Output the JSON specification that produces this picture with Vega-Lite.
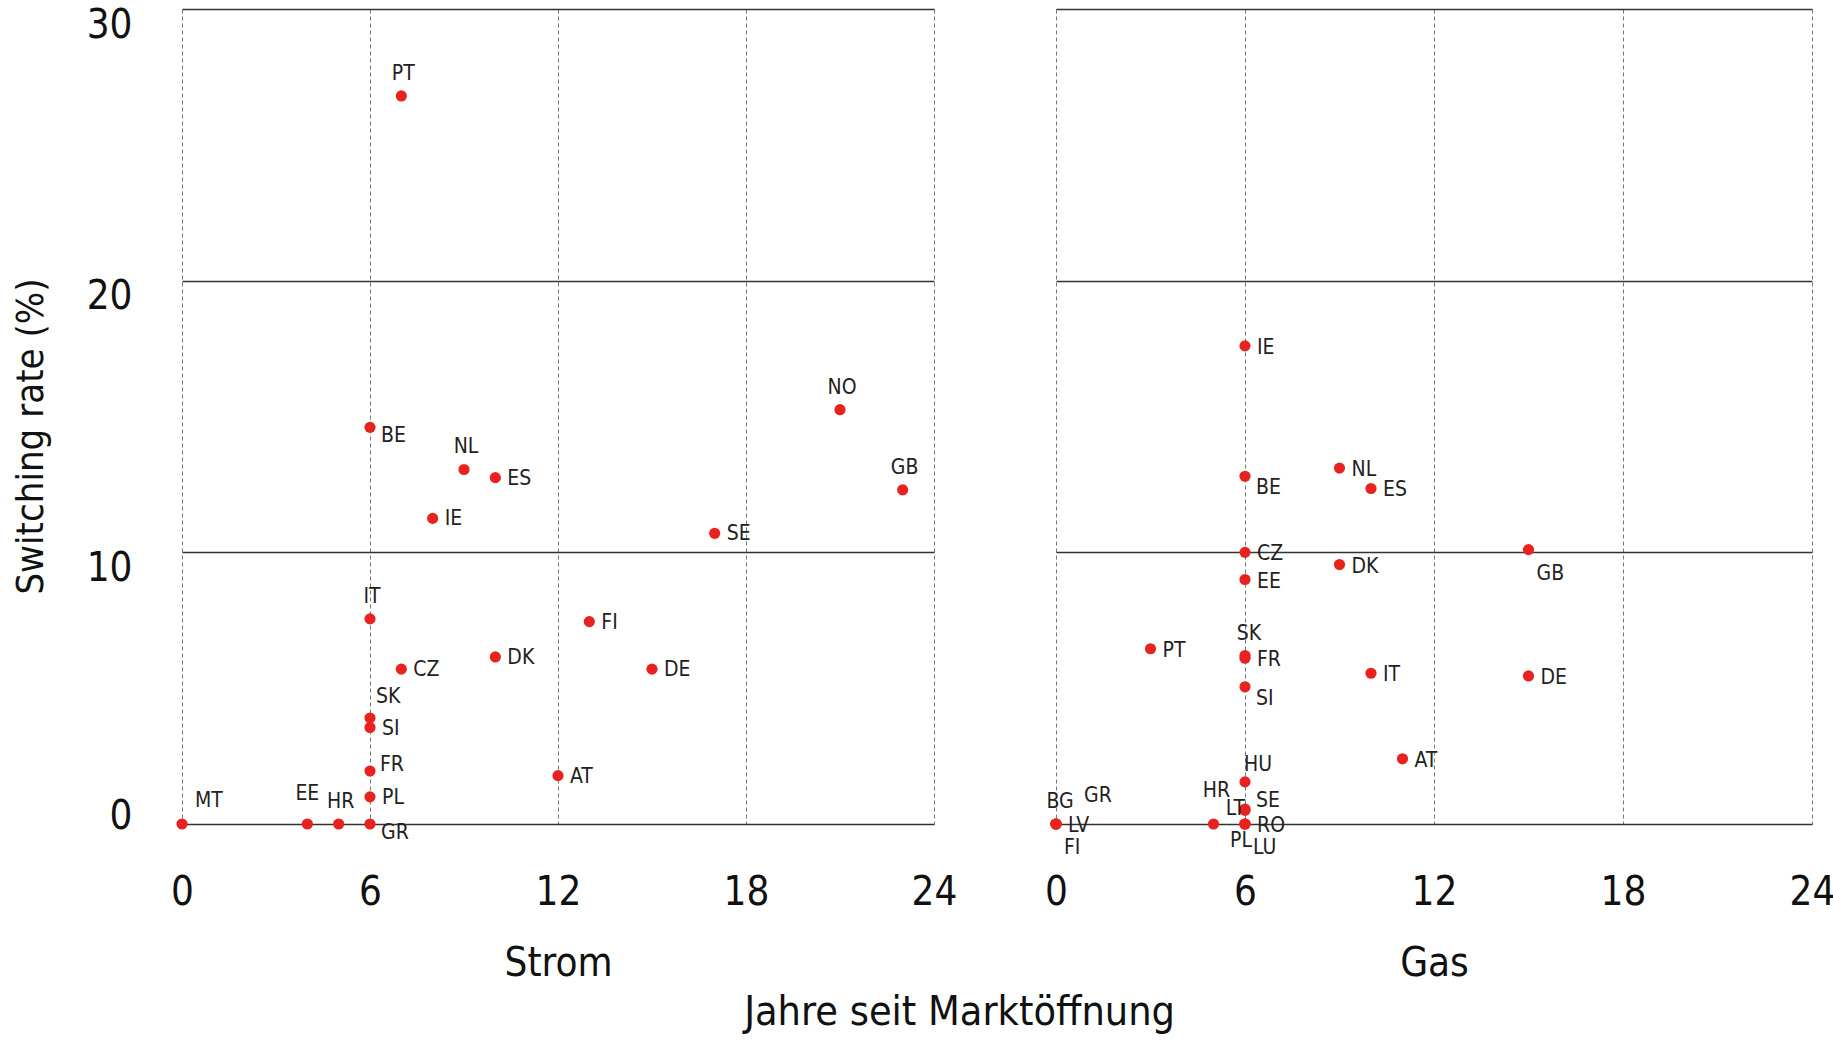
{
  "$schema": "https://vega.github.io/schema/vega-lite/v6.json",
  "padding": {"left": 12, "top": 5, "right": 5, "bottom": 2},
  "background": "white",
  "bounds": "flush",
  "spacing": 122,
  "title": {"text": "Jahre seit Marktöffnung", "orient": "bottom", "anchor": "middle", "fontSize": 41, "fontWeight": "normal", "font": "DejaVu Sans Condensed", "color": "#111", "offset": 10, "dx": 36},
  "config": {
    "font": "DejaVu Sans Condensed",
    "view": {"stroke": null},
    "axis": {"labelFont": "DejaVu Sans Condensed", "titleFont": "DejaVu Sans Condensed", "labelColor": "#111", "titleColor": "#111", "titleFontWeight": "normal", "domain": false, "ticks": false}
  },
  "datasets": {
    "strom": [
      {"land": "PT", "jahre": 7, "rate": 26.8},
      {"land": "BE", "jahre": 6, "rate": 14.6},
      {"land": "NL", "jahre": 9, "rate": 13.05},
      {"land": "ES", "jahre": 10, "rate": 12.75},
      {"land": "IE", "jahre": 8, "rate": 11.25},
      {"land": "SE", "jahre": 17, "rate": 10.7},
      {"land": "NO", "jahre": 21, "rate": 15.25},
      {"land": "GB", "jahre": 23, "rate": 12.3},
      {"land": "IT", "jahre": 6, "rate": 7.55},
      {"land": "FI", "jahre": 13, "rate": 7.45},
      {"land": "DK", "jahre": 10, "rate": 6.15},
      {"land": "CZ", "jahre": 7, "rate": 5.7},
      {"land": "DE", "jahre": 15, "rate": 5.7},
      {"land": "SK", "jahre": 6, "rate": 3.9},
      {"land": "SI", "jahre": 6, "rate": 3.55},
      {"land": "FR", "jahre": 6, "rate": 1.95},
      {"land": "PL", "jahre": 6, "rate": 1.0},
      {"land": "GR", "jahre": 6, "rate": 0},
      {"land": "HR", "jahre": 5, "rate": 0},
      {"land": "EE", "jahre": 4, "rate": 0},
      {"land": "MT", "jahre": 0, "rate": 0},
      {"land": "AT", "jahre": 12, "rate": 1.78}
    ],
    "gas": [
      {"land": "IE", "jahre": 6, "rate": 17.6},
      {"land": "BE", "jahre": 6, "rate": 12.8},
      {"land": "NL", "jahre": 9, "rate": 13.1},
      {"land": "ES", "jahre": 10, "rate": 12.35},
      {"land": "CZ", "jahre": 6, "rate": 10.0},
      {"land": "DK", "jahre": 9, "rate": 9.55},
      {"land": "EE", "jahre": 6, "rate": 9.0},
      {"land": "GB", "jahre": 15, "rate": 10.1},
      {"land": "PT", "jahre": 3, "rate": 6.45},
      {"land": "SK", "jahre": 6, "rate": 6.2},
      {"land": "FR", "jahre": 6, "rate": 6.1},
      {"land": "IT", "jahre": 10, "rate": 5.55},
      {"land": "DE", "jahre": 15, "rate": 5.45},
      {"land": "SI", "jahre": 6, "rate": 5.05},
      {"land": "AT", "jahre": 11, "rate": 2.4},
      {"land": "HU", "jahre": 6, "rate": 1.55},
      {"land": "HR", "jahre": 5, "rate": 0},
      {"land": "LT", "jahre": 6, "rate": 0.5},
      {"land": "SE", "jahre": 6, "rate": 0.55},
      {"land": "RO", "jahre": 6, "rate": 0},
      {"land": "PL", "jahre": 6, "rate": 0},
      {"land": "LU", "jahre": 6, "rate": 0},
      {"land": "BG", "jahre": 0, "rate": 0},
      {"land": "GR", "jahre": 0, "rate": 0},
      {"land": "LV", "jahre": 0, "rate": 0},
      {"land": "FI", "jahre": 0, "rate": 0}
    ]
  },
  "hconcat": [
    {
      "width": 752,
      "height": 815,
      "data": {"name": "strom"},
      "encoding": {
        "x": {"field": "jahre", "type": "quantitative", "scale": {"domain": [0, 24], "nice": false, "zero": false},
          "axis": {"values": [0, 6, 12, 18, 24], "title": "Strom", "grid": true, "gridDash": [4, 3], "gridColor": "#777", "gridWidth": 1, "labelFontSize": 40, "labelPadding": 48, "labelFlush": false, "titleFontSize": 40, "titlePadding": 31}},
        "y": {"field": "rate", "type": "quantitative", "scale": {"domain": [0, 30], "nice": false},
          "axis": {"values": [0, 10, 20, 30], "title": "Switching rate (%)", "grid": true, "gridColor": "#333", "gridWidth": 1.4, "labelFontSize": 40, "labelPadding": 50, "labelFlush": false,
            "labelBaseline": {"condition": {"test": "datum.value === 0", "value": "middle"}, "value": "top"},
            "labelOffset": {"condition": {"test": "datum.value === 0", "value": -8}, "value": -4},
            "titleFontSize": 38, "titlePadding": 36, "titleY": 427}}
      },
      "layer": [
        {"mark": {"type": "circle", "size": 125, "color": "#E8231F", "opacity": 1}},
        {"transform": [{"filter": {"field": "land", "oneOf": ["ES", "IE", "SE", "FI", "DK", "CZ", "DE", "SI", "PL", "AT"]}}],
         "mark": {"type": "text", "align": "left", "baseline": "middle", "dx": 12, "dy": 1, "fontSize": 21, "color": "#222"},
         "encoding": {"text": {"field": "land"}}},
        {"transform": [{"filter": {"field": "land", "oneOf": ["BE", "GR"]}}],
         "mark": {"type": "text", "align": "left", "baseline": "middle", "dx": 11, "dy": 9, "fontSize": 21, "color": "#222"},
         "encoding": {"text": {"field": "land"}}},
        {"transform": [{"filter": {"field": "land", "oneOf": ["FR"]}}],
         "mark": {"type": "text", "align": "left", "baseline": "middle", "dx": 10, "dy": -6, "fontSize": 21, "color": "#222"},
         "encoding": {"text": {"field": "land"}}},
        {"transform": [{"filter": {"field": "land", "oneOf": ["PT", "NL", "NO", "GB", "IT", "HR"]}}],
         "mark": {"type": "text", "align": "center", "baseline": "middle", "dx": 2, "dy": -22, "fontSize": 21, "color": "#222"},
         "encoding": {"text": {"field": "land"}}},
        {"transform": [{"filter": {"field": "land", "oneOf": ["EE"]}}],
         "mark": {"type": "text", "align": "center", "baseline": "middle", "dx": 0, "dy": -30, "fontSize": 21, "color": "#222"},
         "encoding": {"text": {"field": "land"}}},
        {"transform": [{"filter": {"field": "land", "oneOf": ["SK"]}}],
         "mark": {"type": "text", "align": "left", "baseline": "middle", "dx": 6, "dy": -21, "fontSize": 21, "color": "#222"},
         "encoding": {"text": {"field": "land"}}},
        {"transform": [{"filter": {"field": "land", "oneOf": ["MT"]}}],
         "mark": {"type": "text", "align": "left", "baseline": "middle", "dx": 13, "dy": -23, "fontSize": 21, "color": "#222"},
         "encoding": {"text": {"field": "land"}}}
      ]
    },
    {
      "width": 756,
      "height": 815,
      "data": {"name": "gas"},
      "encoding": {
        "x": {"field": "jahre", "type": "quantitative", "scale": {"domain": [0, 24], "nice": false, "zero": false},
          "axis": {"values": [0, 6, 12, 18, 24], "title": "Gas", "grid": true, "gridDash": [4, 3], "gridColor": "#777", "gridWidth": 1, "labelFontSize": 40, "labelPadding": 48, "labelFlush": false, "titleFontSize": 40, "titlePadding": 31}},
        "y": {"field": "rate", "type": "quantitative", "scale": {"domain": [0, 30], "nice": false},
          "axis": {"values": [0, 10, 20, 30], "title": null, "labels": false, "grid": true, "gridColor": "#333", "gridWidth": 1.4}}
      },
      "layer": [
        {"mark": {"type": "circle", "size": 125, "color": "#E8231F", "opacity": 1}},
        {"transform": [{"filter": {"field": "land", "oneOf": ["IE", "NL", "ES", "CZ", "DK", "EE", "PT", "FR", "IT", "DE", "AT", "RO", "LV"]}}],
         "mark": {"type": "text", "align": "left", "baseline": "middle", "dx": 12, "dy": 2, "fontSize": 21, "color": "#222"},
         "encoding": {"text": {"field": "land"}}},
        {"transform": [{"filter": {"field": "land", "oneOf": ["BE", "SI"]}}],
         "mark": {"type": "text", "align": "left", "baseline": "middle", "dx": 11, "dy": 12, "fontSize": 21, "color": "#222"},
         "encoding": {"text": {"field": "land"}}},
        {"transform": [{"filter": {"field": "land", "oneOf": ["SE"]}}],
         "mark": {"type": "text", "align": "left", "baseline": "middle", "dx": 11, "dy": -8, "fontSize": 21, "color": "#222"},
         "encoding": {"text": {"field": "land"}}},
        {"transform": [{"filter": {"field": "land", "oneOf": ["SK", "BG"]}}],
         "mark": {"type": "text", "align": "center", "baseline": "middle", "dx": 4, "dy": -22, "fontSize": 21, "color": "#222"},
         "encoding": {"text": {"field": "land"}}},
        {"transform": [{"filter": {"field": "land", "oneOf": ["HU"]}}],
         "mark": {"type": "text", "align": "left", "baseline": "middle", "dx": -1, "dy": -17, "fontSize": 21, "color": "#222"},
         "encoding": {"text": {"field": "land"}}},
        {"transform": [{"filter": {"field": "land", "oneOf": ["HR"]}}],
         "mark": {"type": "text", "align": "center", "baseline": "middle", "dx": 3, "dy": -33, "fontSize": 21, "color": "#222"},
         "encoding": {"text": {"field": "land"}}},
        {"transform": [{"filter": {"field": "land", "oneOf": ["GR"]}}],
         "mark": {"type": "text", "align": "left", "baseline": "middle", "dx": 28, "dy": -28, "fontSize": 21, "color": "#222"},
         "encoding": {"text": {"field": "land"}}},
        {"transform": [{"filter": {"field": "land", "oneOf": ["GB", "LU", "FI"]}}],
         "mark": {"type": "text", "align": "left", "baseline": "middle", "dx": 8, "dy": 24, "fontSize": 21, "color": "#222"},
         "encoding": {"text": {"field": "land"}}},
        {"transform": [{"filter": {"field": "land", "oneOf": ["PL"]}}],
         "mark": {"type": "text", "align": "center", "baseline": "middle", "dx": -4, "dy": 17, "fontSize": 21, "color": "#222"},
         "encoding": {"text": {"field": "land"}}},
        {"transform": [{"filter": {"field": "land", "oneOf": ["LT"]}}],
         "mark": {"type": "text", "align": "right", "baseline": "middle", "dx": 0, "dy": -1, "fontSize": 21, "color": "#222"},
         "encoding": {"text": {"field": "land"}}}
      ]
    }
  ]
}
